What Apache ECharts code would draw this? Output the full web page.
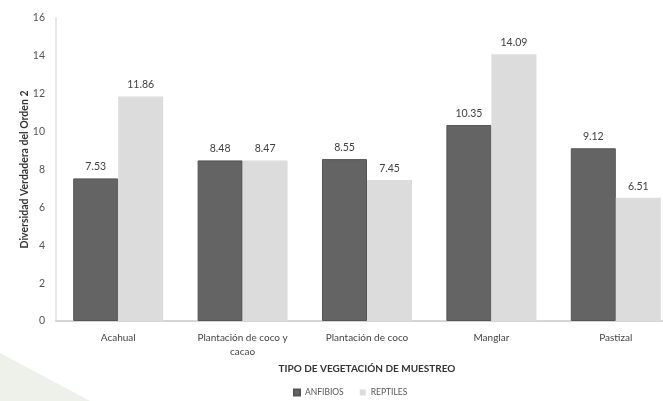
<!DOCTYPE html>
<html><head><meta charset="utf-8">
<script src="https://cdn.jsdelivr.net/npm/echarts@6/dist/echarts.min.js"></script>
<style>html,body{margin:0;padding:0;background:#fff}#c{width:663px;height:401px}</style>
</head><body><div id="c"></div>
<script>
const categories = ['Acahual', 'Plantación de coco y\ncacao', 'Plantación de coco', 'Manglar', 'Pastizal'];
const anfibios = [7.53, 8.48, 8.55, 10.35, 9.12];
const reptiles = [11.86, 8.47, 7.45, 14.09, 6.51];
const seriesNames = ['ANFIBIOS', 'REPTILES'];
const yTicks = {min: 0, max: 16, interval: 2};

const font = 'Lato, "Open Sans", sans-serif';
const chart = echarts.init(document.getElementById('c'));
const lbl = {show: true, position: 'top', distance: 6, color: '#404040', fontSize: 10.5, fontFamily: font, formatter: p => p.value.toFixed(2)};
chart.setOption({
  animation: false,
  backgroundColor: '#ffffff',
  graphic: [{type: 'polygon', silent: true, z: -10, shape: {points: [[0, 353], [90, 401], [0, 401]]}, style: {fill: '#eef1ea'}}],
  grid: {left: 56, width: 622, top: 18, bottom: 80, outerBoundsMode: 'none', containLabel: false},
  legend: {bottom: -1, left: 288, itemWidth: 6, itemHeight: 6, itemGap: 16, icon: 'rect',
    textStyle: {color: '#555', fontSize: 8.5, fontFamily: font}, data: seriesNames},
  xAxis: {type: 'category', data: categories,
    name: 'TIPO DE VEGETACIÓN DE MUESTREO', nameLocation: 'middle', nameGap: 42,
    nameTextStyle: {color: '#333', fontSize: 10, fontWeight: 'bold', fontFamily: font},
    axisLine: {lineStyle: {color: '#c8c8c8', width: 1.5}}, axisTick: {show: false},
    axisLabel: {color: '#444', fontSize: 10, fontFamily: font, margin: 10, interval: 0, lineHeight: 14}},
  yAxis: {type: 'value', min: yTicks.min, max: yTicks.max, interval: yTicks.interval,
    name: 'Diversidad Verdadera del Orden 2', nameLocation: 'middle', nameGap: 26, nameRotate: 90,
    nameMoveOverlap: false,
    nameTextStyle: {color: '#333', fontSize: 10.5, fontWeight: 'bold', fontFamily: font},
    axisLine: {show: true, lineStyle: {color: '#e0e0e0', width: 1.5}}, axisTick: {show: false},
    splitLine: {show: false},
    axisLabel: {color: '#555', fontSize: 10.5, fontFamily: font, margin: 11}},
  series: [
    {name: seriesNames[0], type: 'bar', data: anfibios, barWidth: 45, barGap: '0%',
     itemStyle: {color: '#646464', borderColor: '#555', borderWidth: 1}, label: lbl},
    {name: seriesNames[1], type: 'bar', data: reptiles, barWidth: 45,
     itemStyle: {color: '#dcdcdc'}, label: lbl}
  ]
});
</script></body></html>
